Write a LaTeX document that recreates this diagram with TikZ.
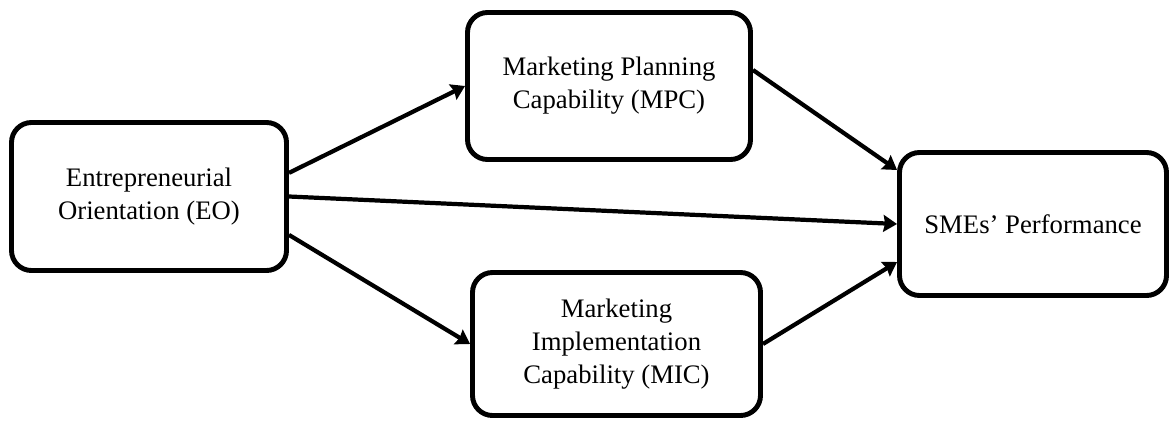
\documentclass[tikz,border=0pt]{standalone}
\usepackage{fontspec}
\setmainfont{Liberation Serif}
\usepackage{tikz}
\usetikzlibrary{arrows.meta,shapes,positioning}
\tikzstyle{block} = [draw=black,line width=3.5pt,rounded corners=0.5cm,align=center,inner sep=0pt,font=\fontsize{19}{23.4}\selectfont]
\tikzstyle{arrow} = [line width=3pt,->,>={Stealth[length=0.34cm,width=0.42cm,inset=0.04cm]}]

\begin{document}
\begin{tikzpicture}
\useasboundingbox (0,0) rectangle (29.25,10.525);

% Constructs
\node[block, minimum width=6.875cm, minimum height=3.7cm] (eo) at (3.725,5.6125) {Entrepreneurial\\Orientation (EO)};
\node[block, minimum width=7.075cm, minimum height=3.675cm] (mpc) at (15.225,8.375) {Marketing Planning\\Capability (MPC)};
\node[block, minimum width=7.2cm, minimum height=3.575cm] (mic) at (15.4125,1.925) {Marketing\\Implementation\\Capability (MIC)};
\node[block, minimum width=6.675cm, minimum height=3.575cm] (perf) at (25.825,4.925) {SMEs' Performance};

% Paths
\draw[arrow] ([yshift=0.59cm]eo.east) -- (mpc.west);
\draw[arrow] (eo.east) -- (perf.west);
\draw[arrow] ([yshift=-0.96cm]eo.east) -- (mic.west);
\draw[arrow] ([yshift=0.4cm]mpc.east) -- ([yshift=1.35cm]perf.west);
\draw[arrow] (mic.east) -- ([yshift=-0.95cm]perf.west);
\end{tikzpicture}
\end{document}
